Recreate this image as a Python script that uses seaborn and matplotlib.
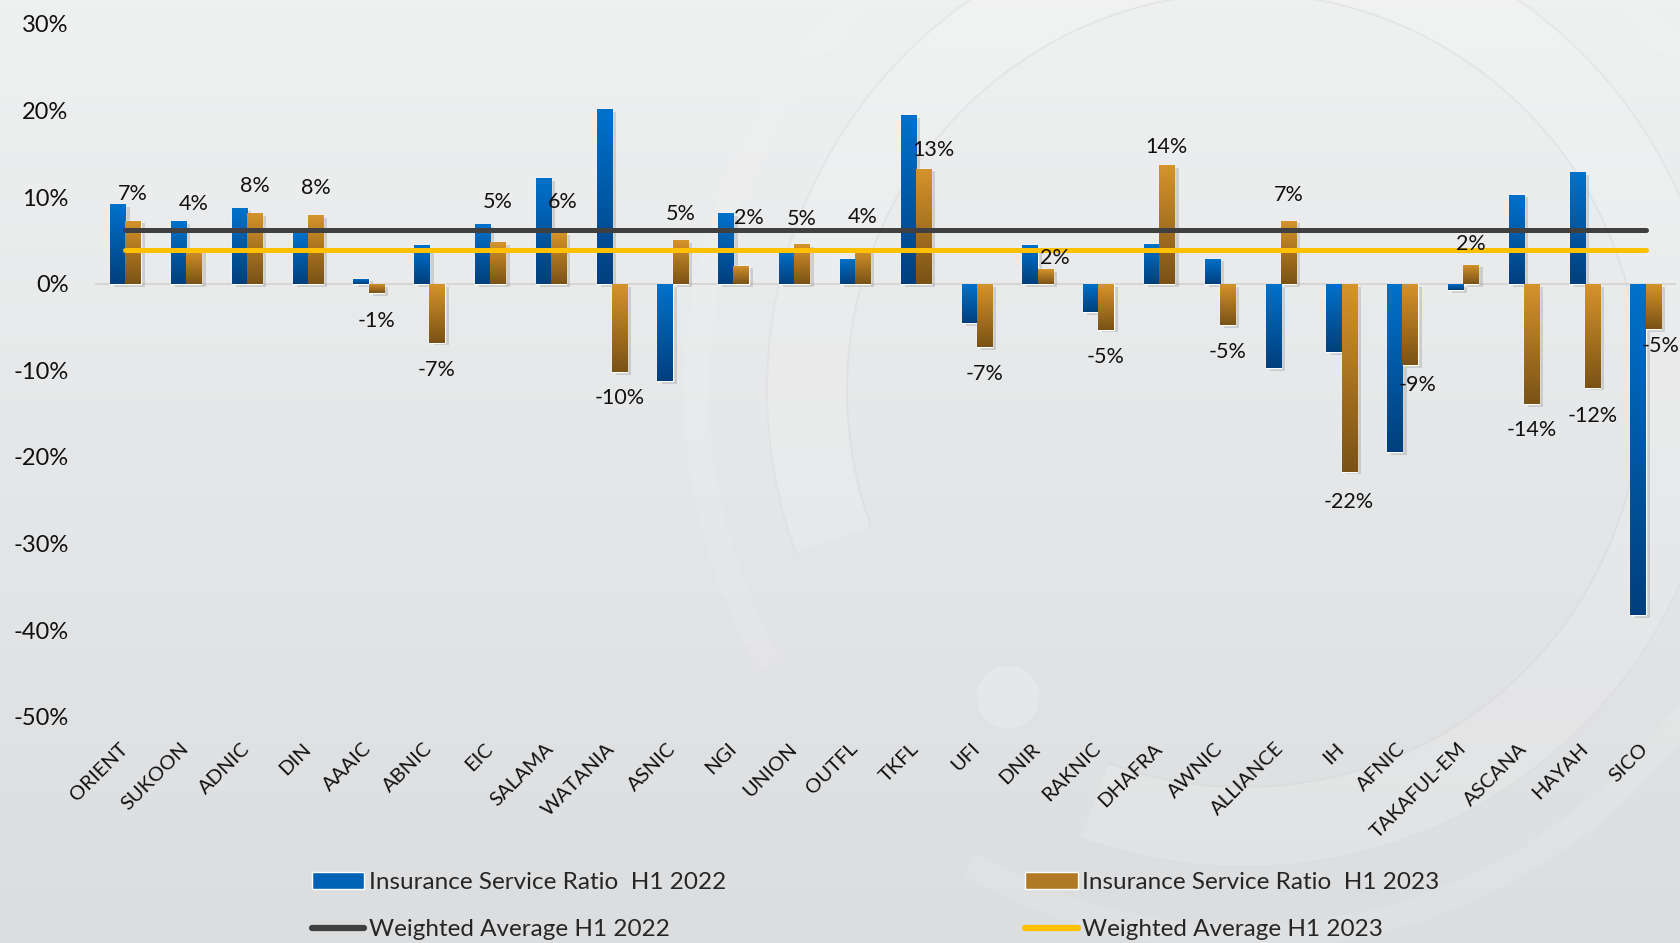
import numpy as np
import pandas as pd
import matplotlib
matplotlib.use("Agg")
import matplotlib.pyplot as plt
import seaborn as sns
import matplotlib.patheffects as pe
from matplotlib.patches import Patch, Wedge, Circle
from matplotlib.lines import Line2D
from matplotlib.colors import LinearSegmentedColormap

# data (percent)
companies = ["ORIENT", "SUKOON", "ADNIC", "DIN", "AAAIC", "ABNIC", "EIC", "SALAMA", "WATANIA",
             "ASNIC", "NGI", "UNION", "OUTFL", "TKFL", "UFI", "DNIR", "RAKNIC", "DHAFRA",
             "AWNIC", "ALLIANCE", "IH", "AFNIC", "TAKAFUL-EM", "ASCANA", "HAYAH", "SICO"]
ratio_2022 = [9.2, 7.2, 8.7, 6.0, 0.6, 4.5, 6.9, 12.2, 20.2, -11.2, 8.2, 3.8, 2.9, 19.5,
              -4.5, 4.5, -3.3, 4.6, 2.9, -9.7, -7.9, -19.4, -0.7, 10.3, 12.9, -38.3]
ratio_2023 = [7.3, 4.0, 8.2, 7.9, -1.1, -6.8, 4.8, 5.9, -10.2, 5.0, 2.1, 4.6, 4.0, 13.3,
              -7.3, 1.7, -5.3, 13.7, -4.8, 7.3, -21.7, -9.4, 2.2, -13.9, -12.0, -5.2]
labels_2023 = ["7%", "4%", "8%", "8%", "-1%", "-7%", "5%", "6%", "-10%", "5%", "2%", "5%", "4%",
               "13%", "-7%", "2%", "-5%", "14%", "-5%", "7%", "-22%", "-9%", "2%", "-14%",
               "-12%", "-5%"]
avg_2022 = 6.2
avg_2023 = 3.9
series_names = ["Insurance Service Ratio  H1 2022", "Insurance Service Ratio  H1 2023"]
avg_names = ["Weighted Average H1 2022", "Weighted Average H1 2023"]
yticks = [-50, -40, -30, -20, -10, 0, 10, 20, 30]

# label placement tweaks (pixels away from bar end / sideways)
label_gap = [27, 45, 27, 27, 28, 27, 40, 31, 26, 26, 48, 25, 32, 19, 27, 11, 27, 18, 27, 26,
             30, 20, 21, 26, 28, 17]
label_dx = [0, 0, 0, 0, 0, 0, 0, 4, 0, 0, 8, 0, 0, 10, 0, 10, 0, 0, 0, 0, 0, 8, 0, 0, 0, 7]

df = pd.DataFrame({
    "company": companies * 2,
    "value": ratio_2022 + ratio_2023,
    "series": [series_names[0]] * len(companies) + [series_names[1]] * len(companies),
})

sns.set_style("white")
plt.rcParams["font.family"] = ["Lato", "DejaVu Sans"]

W, H = 1681, 943
fig = plt.figure(figsize=(W / 100, H / 100), dpi=100)

# background with faint watermark rings
bg = fig.add_axes([0, 0, 1, 1], zorder=-10)
bg_cmap = LinearSegmentedColormap.from_list("bg", ["#dcdddf", "#eff0f0"])
bg.imshow(np.linspace(0, 1, 256).reshape(-1, 1)[::-1], cmap=bg_cmap, aspect="auto",
          extent=(0, W, H, 0), interpolation="bicubic")
bg.add_patch(Wedge((1244, 390), 478, 160, 470, width=80, facecolor="white", alpha=0.13,
                   edgecolor="none"))
for r in (478, 398):
    bg.add_patch(Wedge((1244, 390), r, 160, 470, width=2, facecolor="#d4d5d7", alpha=0.35,
                       edgecolor="none"))
bg.add_patch(Wedge((1244, 390), 560, 150, 480, width=25, facecolor="white", alpha=0.1,
                   edgecolor="none"))
bg.add_patch(Circle((1008, 697), 32, facecolor="white", alpha=0.18, edgecolor="#d4d5d7",
                    lw=1))
bg.set_xlim(0, W)
bg.set_ylim(H, 0)
bg.axis("off")

ax = fig.add_axes([95 / W, 1 - 716.7 / H, (1676 - 95) / W, (716.7 - 24) / H])
ax.set_facecolor("none")

sns.barplot(data=df, x="company", y="value", hue="series",
            palette=["#0063b5", "#b07a24"], width=0.5, gap=0, saturation=1,
            errorbar=None, legend=False, ax=ax, zorder=2)

# vertical gradient fill + soft shadow on each bar
grads = [("#003f7c", "#0072cc"), ("#7a5216", "#d6942b")]
grad = np.linspace(0, 1, 256).reshape(-1, 1)
for cont, (dark, light) in zip(ax.containers, grads):
    cmap = LinearSegmentedColormap.from_list("g", [dark, light])
    for bar in cont:
        x0, w = bar.get_x(), bar.get_width()
        y0 = min(bar.get_y(), bar.get_y() + bar.get_height())
        y1 = max(bar.get_y(), bar.get_y() + bar.get_height())
        bar.set_path_effects([pe.SimplePatchShadow(offset=(3, -2), shadow_rgbFace="#8a8a8a",
                                                   alpha=0.3), pe.Normal()])
        im = ax.imshow(grad, cmap=cmap, origin="lower", aspect="auto",
                       extent=(x0, x0 + w, y0, y1), zorder=2.5, interpolation="bicubic")
        im.set_clip_path(bar)

ax.set_xlim(-0.5, len(companies) - 0.5)
ax.set_ylim(-50, 30)

# zero axis line
ax.axhline(0, color="#d6d6d6", lw=1.5, zorder=1)

# weighted averages
l1 = ax.hlines(avg_2022, 0, len(companies) - 1, color="#404040", lw=3.6, zorder=3)
l2 = ax.hlines(avg_2023, 0, len(companies) - 1, color="#ffc000", lw=3.6, zorder=3)
for l in (l1, l2):
    l.set_capstyle("round")

# data labels for H1 2023
for bar, txt, gap, dx in zip(ax.containers[1], labels_2023, label_gap, label_dx):
    v = bar.get_height()
    xc = bar.get_x() + bar.get_width() / 2
    sign = 1 if v >= 0 else -1
    ax.annotate(txt, (xc, v), xytext=(dx * 0.72, sign * gap * 0.72),
                textcoords="offset points", ha="center", va="center",
                fontsize=15.5, color="#111111", zorder=5)

ax.set_yticks(yticks)
ax.set_yticklabels([f"{t}%" for t in yticks], fontsize=17, color="#111111")
ax.set_xticks(range(len(companies)))
ax.set_xticklabels(companies, rotation=45, ha="right", va="center",
                   rotation_mode="anchor", fontsize=14.5, color="#111111")
ax.tick_params(axis="y", length=0, pad=19)
ax.tick_params(axis="x", length=0, pad=21)
ax.set_xlabel("")
ax.set_ylabel("")
sns.despine(ax=ax, left=True, bottom=True)

handles = [
    Patch(facecolor="#0063b5"),
    Line2D([], [], color="#404040", lw=4.5, solid_capstyle="round"),
    Patch(facecolor="#b07a24"),
    Line2D([], [], color="#ffc000", lw=4.5, solid_capstyle="round"),
]
names = [series_names[0], avg_names[0], series_names[1], avg_names[1]]
fig.legend(handles, names, ncol=2, loc="upper left", bbox_to_anchor=(312 / W, 1 - 872 / H),
           frameon=False, fontsize=17.5, handlelength=2.15, handleheight=0.65,
           handletextpad=0.2, columnspacing=12.3, labelspacing=1.08,
           borderpad=0, borderaxespad=0)

fig.savefig("out.png", dpi=100, facecolor="#e6e7e8")
